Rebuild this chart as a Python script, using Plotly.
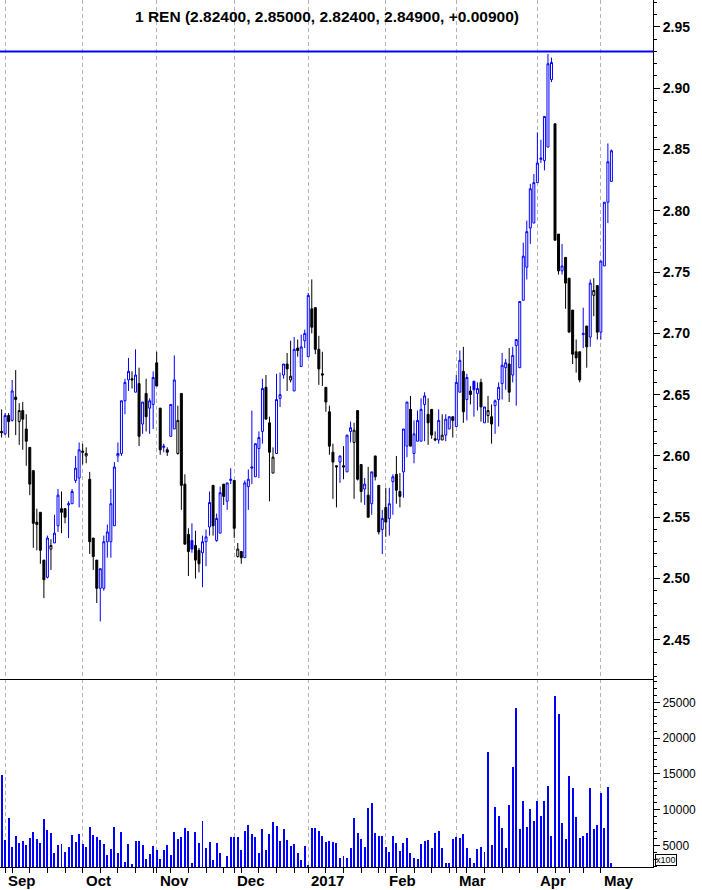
import pandas as pd
import plotly.graph_objects as go

# ---------------- data ----------------
dates = pd.bdate_range("2016-08-31", "2017-05-05")
holidays = pd.to_datetime(["2016-12-26", "2017-04-14", "2017-04-17", "2017-05-01"])
dates = dates[~dates.isin(holidays)]

opens = [2.620, 2.618, 2.633, 2.629, 2.648, 2.628, 2.637, 2.622, 2.607, 2.588,
         2.546, 2.554, 2.515, 2.501, 2.524, 2.529, 2.543, 2.557, 2.557, 2.560,
         2.561, 2.580, 2.582, 2.604, 2.600, 2.581, 2.533, 2.515, 2.492, 2.492,
         2.530, 2.530, 2.543, 2.600, 2.602, 2.645, 2.662, 2.663, 2.652, 2.659,
         2.626, 2.651, 2.639, 2.642, 2.676, 2.639, 2.607, 2.605, 2.616, 2.622,
         2.602, 2.651, 2.577, 2.536, 2.531, 2.527, 2.523, 2.521, 2.530, 2.542,
         2.576, 2.531, 2.537, 2.577, 2.563, 2.580, 2.580, 2.518, 2.522, 2.517,
         2.575, 2.590, 2.583, 2.606, 2.620, 2.656, 2.627, 2.586, 2.602, 2.647,
         2.666, 2.675, 2.662, 2.653, 2.688, 2.673, 2.694, 2.681, 2.720, 2.721,
         2.687, 2.667, 2.656, 2.636, 2.603, 2.592, 2.595, 2.592, 2.587, 2.620,
         2.611, 2.637, 2.593, 2.573, 2.568, 2.561, 2.600, 2.576, 2.540, 2.558,
         2.549, 2.579, 2.585, 2.571, 2.587, 2.608, 2.638, 2.602, 2.612, 2.612,
         2.642, 2.634, 2.638, 2.614, 2.613, 2.613, 2.617, 2.622, 2.632, 2.624,
         2.652, 2.669, 2.646, 2.653, 2.661, 2.651, 2.660, 2.627, 2.633, 2.632,
         2.641, 2.646, 2.659, 2.672, 2.675, 2.666, 2.690, 2.672, 2.727, 2.754,
         2.786, 2.790, 2.823, 2.842, 2.841, 2.852, 2.907, 2.871, 2.781, 2.751,
         2.762, 2.745, 2.719, 2.685, 2.685, 2.699, 2.706, 2.697, 2.731, 2.739,
         2.701, 2.755, 2.807, 2.824]
highs = [2.638, 2.635, 2.635, 2.662, 2.670, 2.643, 2.644, 2.634, 2.607, 2.588,
         2.557, 2.554, 2.515, 2.535, 2.532, 2.552, 2.573, 2.571, 2.557, 2.563,
         2.573, 2.600, 2.611, 2.610, 2.607, 2.587, 2.533, 2.515, 2.508, 2.535,
         2.544, 2.573, 2.595, 2.611, 2.645, 2.663, 2.680, 2.669, 2.687, 2.672,
         2.644, 2.663, 2.647, 2.669, 2.685, 2.639, 2.610, 2.607, 2.642, 2.682,
         2.641, 2.651, 2.585, 2.541, 2.545, 2.539, 2.525, 2.535, 2.540, 2.571,
         2.576, 2.553, 2.575, 2.577, 2.578, 2.590, 2.580, 2.529, 2.522, 2.580,
         2.589, 2.637, 2.610, 2.620, 2.663, 2.666, 2.632, 2.607, 2.667, 2.668,
         2.675, 2.684, 2.694, 2.697, 2.695, 2.699, 2.703, 2.733, 2.744, 2.721,
         2.698, 2.685, 2.656, 2.641, 2.610, 2.592, 2.600, 2.608, 2.617, 2.628,
         2.627, 2.637, 2.593, 2.582, 2.591, 2.587, 2.600, 2.576, 2.556, 2.574,
         2.574, 2.585, 2.600, 2.586, 2.622, 2.644, 2.649, 2.629, 2.637, 2.647,
         2.652, 2.647, 2.638, 2.620, 2.638, 2.634, 2.634, 2.632, 2.632, 2.666,
         2.686, 2.689, 2.667, 2.657, 2.661, 2.660, 2.663, 2.640, 2.649, 2.642,
         2.646, 2.660, 2.684, 2.679, 2.688, 2.689, 2.695, 2.726, 2.774, 2.792,
         2.822, 2.830, 2.864, 2.858, 2.877, 2.928, 2.925, 2.871, 2.781, 2.773,
         2.762, 2.745, 2.719, 2.695, 2.685, 2.721, 2.706, 2.744, 2.745, 2.739,
         2.759, 2.807, 2.855, 2.850]
lows = [2.615, 2.617, 2.615, 2.628, 2.617, 2.609, 2.605, 2.592, 2.568, 2.525,
        2.523, 2.512, 2.484, 2.500, 2.507, 2.529, 2.538, 2.537, 2.545, 2.533,
        2.561, 2.578, 2.558, 2.593, 2.594, 2.520, 2.507, 2.480, 2.465, 2.490,
        2.517, 2.517, 2.543, 2.595, 2.600, 2.634, 2.653, 2.655, 2.652, 2.608,
        2.618, 2.620, 2.618, 2.622, 2.657, 2.601, 2.603, 2.600, 2.616, 2.622,
        2.601, 2.556, 2.528, 2.502, 2.521, 2.500, 2.505, 2.493, 2.510, 2.535,
        2.535, 2.530, 2.537, 2.560, 2.556, 2.577, 2.533, 2.517, 2.512, 2.517,
        2.556, 2.577, 2.583, 2.582, 2.610, 2.630, 2.563, 2.586, 2.602, 2.640,
        2.663, 2.653, 2.660, 2.653, 2.681, 2.673, 2.688, 2.681, 2.700, 2.683,
        2.658, 2.657, 2.636, 2.601, 2.565, 2.558, 2.578, 2.581, 2.587, 2.611,
        2.565, 2.580, 2.562, 2.560, 2.550, 2.552, 2.580, 2.536, 2.520, 2.534,
        2.535, 2.552, 2.561, 2.558, 2.566, 2.599, 2.608, 2.594, 2.612, 2.612,
        2.612, 2.609, 2.614, 2.612, 2.610, 2.613, 2.612, 2.622, 2.615, 2.624,
        2.652, 2.627, 2.629, 2.642, 2.632, 2.637, 2.628, 2.627, 2.627, 2.610,
        2.618, 2.624, 2.646, 2.654, 2.644, 2.660, 2.641, 2.672, 2.727, 2.744,
        2.773, 2.790, 2.823, 2.839, 2.833, 2.852, 2.905, 2.776, 2.748, 2.748,
        2.720, 2.701, 2.675, 2.668, 2.660, 2.688, 2.672, 2.689, 2.714, 2.695,
        2.695, 2.755, 2.790, 2.824]
closes = [2.619, 2.633, 2.628, 2.653, 2.646, 2.637, 2.630, 2.612, 2.577, 2.545,
          2.544, 2.523, 2.499, 2.533, 2.527, 2.537, 2.568, 2.554, 2.550, 2.561,
          2.571, 2.590, 2.605, 2.603, 2.602, 2.530, 2.518, 2.492, 2.508, 2.530,
          2.538, 2.561, 2.591, 2.602, 2.645, 2.660, 2.669, 2.662, 2.666, 2.616,
          2.644, 2.632, 2.645, 2.664, 2.657, 2.605, 2.608, 2.603, 2.642, 2.662,
          2.629, 2.576, 2.528, 2.522, 2.524, 2.515, 2.512, 2.530, 2.534, 2.562,
          2.543, 2.549, 2.570, 2.567, 2.578, 2.581, 2.541, 2.524, 2.517, 2.578,
          2.581, 2.591, 2.610, 2.615, 2.655, 2.630, 2.603, 2.599, 2.646, 2.650,
          2.675, 2.671, 2.665, 2.687, 2.686, 2.689, 2.700, 2.731, 2.705, 2.687,
          2.671, 2.666, 2.644, 2.608, 2.595, 2.591, 2.600, 2.591, 2.617, 2.623,
          2.621, 2.581, 2.571, 2.577, 2.550, 2.587, 2.583, 2.538, 2.549, 2.546,
          2.561, 2.583, 2.572, 2.567, 2.622, 2.644, 2.608, 2.618, 2.629, 2.638,
          2.649, 2.627, 2.617, 2.613, 2.629, 2.617, 2.630, 2.632, 2.629, 2.660,
          2.678, 2.636, 2.664, 2.650, 2.654, 2.655, 2.640, 2.640, 2.637, 2.626,
          2.645, 2.656, 2.674, 2.676, 2.652, 2.682, 2.695, 2.726, 2.763, 2.783,
          2.818, 2.823, 2.839, 2.843, 2.877, 2.920, 2.921, 2.776, 2.751, 2.755,
          2.741, 2.701, 2.683, 2.680, 2.662, 2.700, 2.689, 2.741, 2.735, 2.701,
          2.759, 2.807, 2.840, 2.849]
volumes = [14800, 5700, 8800, 4700, 6300, 5300, 5600, 5000, 6000, 6900,
           5900, 5300, 8700, 7100, 6700, 3900, 5000, 5200, 4100, 4800,
           6400, 5500, 6600, 5200, 4800, 7600, 6400, 6200, 5700, 5200,
           3600, 4500, 7600, 3900, 6900, 2700, 5200, 2400, 5600, 5600,
           5000, 3100, 3800, 4900, 4300, 3100, 4300, 5000, 3600, 6900,
           5900, 6200, 7400, 7000, 2500, 6900, 5300, 8400, 4600, 5500,
           2900, 5300, 3900, 1800, 3500, 6200, 6200, 6200, 4300, 7000,
           7800, 6600, 6200, 3900, 7300, 4300, 6600, 8300, 7700, 5600,
           7300, 5700, 4900, 5200, 3900, 2900, 4900, 2200, 7400, 7400,
           7000, 6300, 5500, 5600, 5500, 5300, 3200, 3500, 3200, 4600,
           8800, 6700, 5900, 4800, 10200, 10900, 6700, 6300, 6300, 4800,
           4100, 6300, 5300, 4200, 5300, 6000, 3900, 3200, 3100, 5200,
           5600, 5700, 4600, 6700, 7000, 4600, 2500, 2500, 5900, 6200,
           6000, 6600, 4600, 3200, 2500, 4500, 4800, 4100, 18100, 5000,
           10400, 9100, 7400, 4600, 10600, 16000, 24200, 7300, 11200, 7600,
           10100, 8400, 11200, 9100, 11200, 13300, 6300, 25900, 23400, 8100,
           5900, 14700, 13000, 9000, 6000, 6300, 6700, 13000, 7300, 7800,
           12300, 7400, 13200, 2500]

title_text = "1 REN (2.82400, 2.85000, 2.82400, 2.84900, +0.00900)"
resistance_level = 2.93

n = len(dates)
assert n == len(opens) == len(highs) == len(lows) == len(closes) == len(volumes)
idx = list(range(n))

month_starts = [i for i in range(1, n) if dates[i].month != dates[i - 1].month]
month_labels = ["2017" if dates[i].month == 1 else dates[i].strftime("%b") for i in month_starts]
week_starts = [i for i in range(1, n)
               if dates[i].isocalendar()[1] != dates[i - 1].isocalendar()[1] and i not in month_starts]

# MetaStock-like colouring: colour by close vs previous close, fill by close vs open
is_blue = [False] + [closes[i] >= closes[i - 1] for i in range(1, n)]
blue_idx = [i for i in idx if is_blue[i]]
black_idx = [i for i in idx if not is_blue[i]]

BLUE = "#0000ff"
FONT = "Liberation Sans, Arial, sans-serif"

fig = go.Figure()

def candle(sel, color):
    return go.Candlestick(
        x=sel,
        open=[opens[i] for i in sel], high=[highs[i] for i in sel],
        low=[lows[i] for i in sel], close=[closes[i] for i in sel],
        increasing=dict(line=dict(color=color, width=1), fillcolor="white"),
        decreasing=dict(line=dict(color=color, width=1), fillcolor=color),
        whiskerwidth=0, xaxis="x2", yaxis="y2", showlegend=False, hoverinfo="skip",
    )

fig.add_trace(candle(blue_idx, BLUE))
fig.add_trace(candle(black_idx, "#000000"))

fig.add_trace(go.Bar(x=idx, y=volumes, marker=dict(color=BLUE, line=dict(width=0)),
                     width=0.28, xaxis="x", yaxis="y", showlegend=False, hoverinfo="skip"))

split = (867 - 679) / 867
xrange = [-0.45, 184.8]
grid = dict(showgrid=True, gridcolor="#b4b4b4", griddash="4px,3px", gridwidth=1)

fig.update_layout(
    width=702, height=890,
    margin=dict(l=0, r=49, t=0, b=23, autoexpand=False),
    paper_bgcolor="white", plot_bgcolor="white",
    font=dict(family=FONT, color="black"),
    bargap=0, boxgap=0.2, showlegend=False, hovermode=False,
    xaxis=dict(domain=[0, 1], anchor="y", range=xrange, tickmode="array", tickvals=month_starts,
               showticklabels=False, ticks="outside", ticklen=5, tickcolor="black", tickwidth=1,
               showline=True, linecolor="black", linewidth=1, zeroline=False, automargin=False,
               minor=dict(tickmode="array", tickvals=week_starts, ticks="outside", ticklen=5,
                          tickcolor="black", showgrid=False),
               rangeslider=dict(visible=False), **grid),
    xaxis2=dict(domain=[0, 1], anchor="y2", matches="x", range=xrange, tickmode="array",
                tickvals=month_starts, showticklabels=False, ticks="", showline=True,
                linecolor="black", linewidth=1, zeroline=False, automargin=False,
                rangeslider=dict(visible=False), **grid),
    yaxis=dict(domain=[0, split], anchor="x", side="right", range=[1961, 28291],
               tickmode="array", tickvals=[5000, 10000, 15000, 20000, 25000],
               ticktext=["5000", "10000", "15000", "20000", "25000"],
               ticks="outside", ticklen=6, tickcolor="black", showgrid=False, zeroline=False,
               showline=True, linecolor="black", linewidth=1, automargin=False,
               tickfont=dict(family=FONT, size=12, color="black"),
               minor=dict(dtick=1000, tick0=0, ticks="outside", ticklen=3, tickcolor="black")),
    yaxis2=dict(domain=[split, 1], anchor="x2", side="right", range=[2.418, 2.972],
                tickmode="linear", tick0=2.45, dtick=0.05, tickformat=".2f",
                ticks="outside", ticklen=6, tickcolor="black", showgrid=False, zeroline=False,
                showline=True, linecolor="black", linewidth=1, automargin=False,
                tickfont=dict(family=FONT, size=14, color="black", weight="bold"),
                minor=dict(dtick=0.01, tick0=2.45, ticks="outside", ticklen=3, tickcolor="black")),
)

fig.add_shape(type="line", xref="x2 domain", yref="y2", x0=0, x1=1,
              y0=resistance_level, y1=resistance_level, line=dict(color=BLUE, width=2))

fig.add_annotation(text="<b>" + title_text + "</b>", xref="paper", yref="paper", x=0.5, y=1,
                   xanchor="center", yanchor="top", yshift=-6, showarrow=False,
                   font=dict(family=FONT, size=15.5, color="black"))

for i, lab in zip(month_starts, month_labels):
    fig.add_annotation(text="<b>" + lab + "</b>", x=i, xref="x", y=0, yref="paper",
                       xanchor="left", yanchor="top", xshift=1, yshift=-3, showarrow=False,
                       font=dict(family=FONT, size=15, color="black"))

fig.add_annotation(text="x100", xref="paper", yref="paper", x=1, y=0, xanchor="left",
                   yanchor="bottom", xshift=2, yshift=1, showarrow=False,
                   bordercolor="black", borderwidth=1, borderpad=0,
                   font=dict(family=FONT, size=9, color="black"))

fig.write_html("out.html", config={"displayModeBar": False},
               post_script="document.body.style.margin='0';document.body.style.overflow='hidden';")
